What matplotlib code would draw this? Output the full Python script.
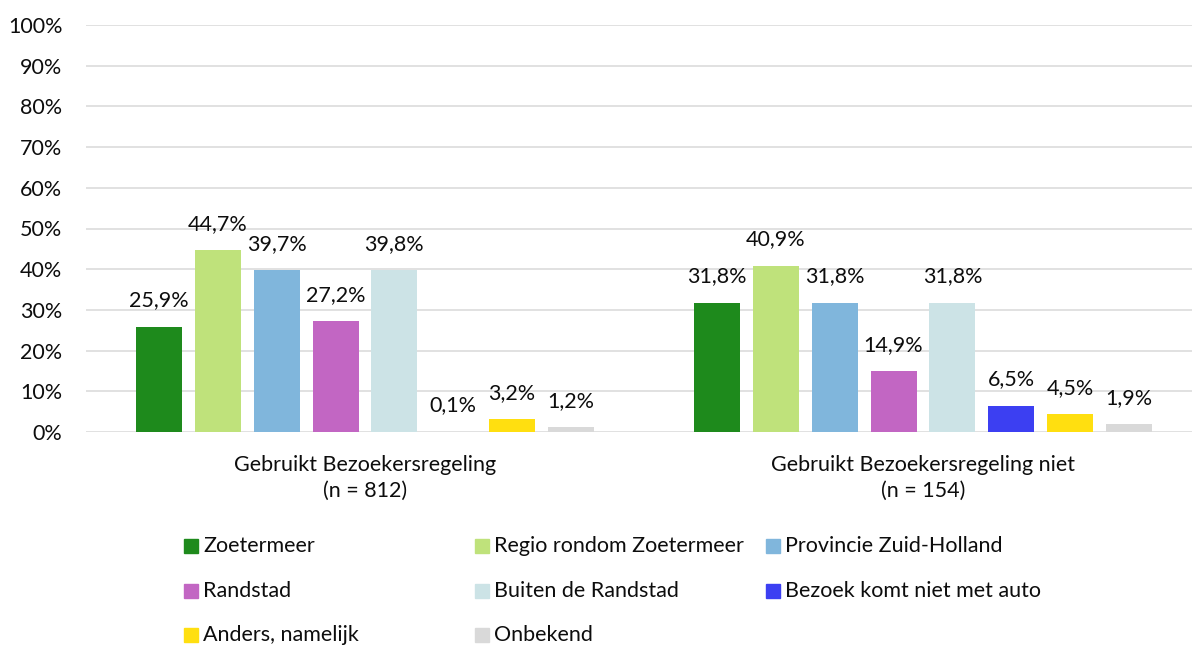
import matplotlib
matplotlib.use("Agg")
import matplotlib.pyplot as plt
from matplotlib.patches import Rectangle

plt.rcParams['font.family'] = ['Lato', 'DejaVu Sans']

categories = ["Gebruikt Bezoekersregeling", "Gebruikt Bezoekersregeling niet"]
cat_n = ["(n = 812)", "(n = 154)"]
series = ["Zoetermeer", "Regio rondom Zoetermeer", "Provincie Zuid-Holland",
          "Randstad", "Buiten de Randstad", "Bezoek komt niet met auto",
          "Anders, namelijk", "Onbekend"]
values_used = [25.9, 44.7, 39.7, 27.2, 39.8, 0.1, 3.2, 1.2]
values_not = [31.8, 40.9, 31.8, 14.9, 31.8, 6.5, 4.5, 1.9]
colors = ["#1E8A1C", "#BFE27B", "#80B6DC", "#C266C3", "#CCE3E6", "#3C3FF2", "#FFDF10", "#D9D9D9"]
yticks = [0, 10, 20, 30, 40, 50, 60, 70, 80, 90, 100]

W, H = 1192, 646
fig = plt.figure(figsize=(W / 100, H / 100), dpi=100)
ax = fig.add_axes([86 / W, (H - 432) / H, 1116 / W, 407 / H])
ax.set_xlim(-0.5, 1.5)
ax.set_ylim(0, 100)

text_color = "#0D0D0D"
fs = 15.5

step = 0.1054
bw = 0.0824
data = [values_used, values_not]
for i, name in enumerate(series):
    xs = [c + (i - 3.5) * step for c in range(len(categories))]
    vals = [data[c][i] for c in range(len(categories))]
    ax.bar(xs, vals, width=bw, color=colors[i], zorder=3, label=name)
    for x, v in zip(xs, vals):
        ax.annotate(f"{v:.1f}%".replace(".", ","), xy=(x, v), xytext=(0, 26),
                    textcoords="offset pixels", ha="center", va="center",
                    fontsize=fs, color=text_color, zorder=4)

ax.set_yticks(yticks)
ax.set_yticklabels([f"{t}%" for t in yticks], fontsize=fs, color=text_color)
ax.tick_params(axis="y", length=0, pad=17)
ax.set_xticks([])
ax.grid(axis="y", color="#D9D9D9", linewidth=1.1, zorder=0)
ax.set_axisbelow(True)
for s in ax.spines.values():
    s.set_visible(False)

for c, (cat, n) in enumerate(zip(categories, cat_n)):
    ax.annotate(cat, xy=(c, 0), xytext=(0, -33), textcoords="offset pixels",
                ha="center", va="center", fontsize=fs, color=text_color, annotation_clip=False)
    ax.annotate(n, xy=(c, 0), xytext=(0, -59), textcoords="offset pixels",
                ha="center", va="center", fontsize=fs, color=text_color, annotation_clip=False)

# legend (3 columns)
col_x = [184, 475, 766]
row_y = [546, 591, 635]
sq = 14
for i, name in enumerate(series):
    r, c = divmod(i, 3)
    x0 = col_x[c]
    yc = row_y[r]
    fig.patches.append(Rectangle((x0 / W, (H - yc - sq / 2) / H), sq / W, sq / H,
                                 transform=fig.transFigure, color=colors[i]))
    fig.text((x0 + sq + 5) / W, (H - yc) / H, name, ha="left", va="center",
             fontsize=fs, color=text_color)

fig.savefig("out.png", dpi=100)
